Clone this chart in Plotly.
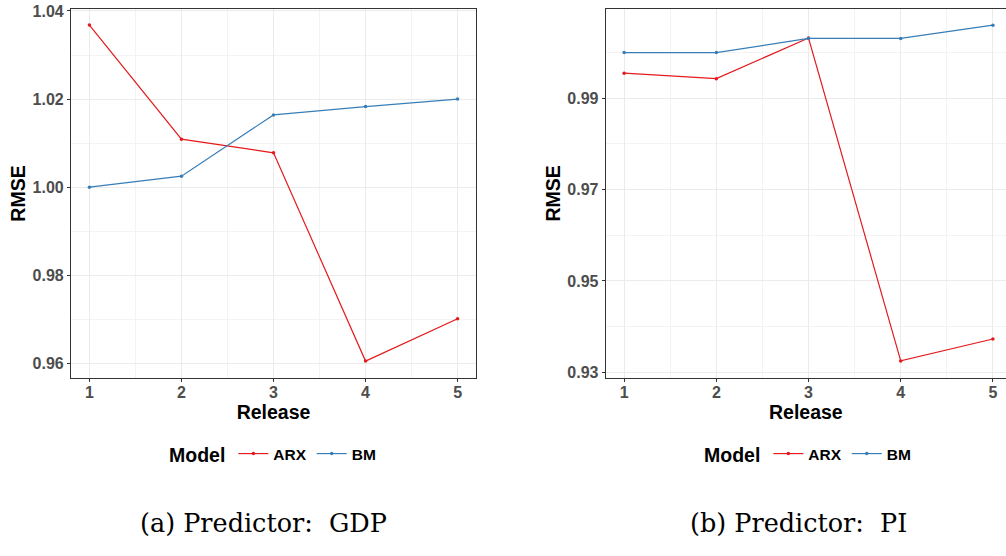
import plotly.graph_objects as go

releases = [1, 2, 3, 4, 5]

gdp_arx = [1.0368, 1.0109, 1.0078, 0.9605, 0.9701]
gdp_bm = [1.0000, 1.0025, 1.0164, 1.0183, 1.0200]

pi_arx = [0.9955, 0.9943, 1.0032, 0.9325, 0.9373]
pi_bm = [1.0000, 1.0000, 1.0031, 1.0031, 1.0060]

model_names = ["ARX", "BM"]
model_colors = ["#E41A1C", "#377EB8"]

captions = ["(a) Predictor:\u00a0 GDP", "(b) Predictor:\u00a0 PI"]

W, H = 1006, 556
FONT = "Liberation Sans, Arial, Helvetica, sans-serif"

fig = go.Figure()

panels = [(gdp_arx, gdp_bm, "x", "y", "legend"), (pi_arx, pi_bm, "x2", "y2", "legend2")]
for arx, bm, xa, ya, lg in panels:
    for name, vals, col in zip(model_names, [arx, bm], model_colors):
        fig.add_trace(go.Scatter(
            x=releases, y=vals, name=name, mode="lines+markers",
            line=dict(color=col, width=1.2),
            marker=dict(color=col, size=3.5),
            xaxis=xa, yaxis=ya, legend=lg,
        ))

def px_x(p):
    return p / W

def px_y(p):
    return 1 - p / H

axis_common = dict(
    automargin=False,
    showline=True, linecolor="#333333", linewidth=1.1,
    ticks="outside", ticklen=3, tickwidth=1, tickcolor="#333333",
    tickfont=dict(family=FONT, size=16, color="#4D4D4D", weight="bold"),
    showgrid=True, gridcolor="#EBEBEB", gridwidth=1.1,
    zeroline=False,
    title_font=dict(family=FONT, size=19.5, color="black", weight="bold"),
)

fig.update_layout(
    template="none",
    width=W, height=H,
    margin=dict(l=0, r=0, t=0, b=0, autoexpand=False),
    paper_bgcolor="white", plot_bgcolor="white",
    font=dict(family=FONT),
    xaxis=dict(axis_common, domain=[px_x(71), px_x(476)], range=[0.8, 5.2],
               tickvals=releases, mirror=True, anchor="y", ticklabelstandoff=-3,
               minor=dict(tickvals=[1.5, 2.5, 3.5, 4.5], showgrid=True, gridcolor="#F3F3F3", gridwidth=0.6, ticks=""),
               title=dict(text="Release", standoff=1)),
    yaxis=dict(axis_common, domain=[px_y(378), px_y(9)], range=[0.95666, 1.04045],
               tickvals=[0.96, 0.98, 1.00, 1.02, 1.04], ticktext=["0.96", "0.98", "1.00", "1.02", "1.04"],
               mirror=True, anchor="x",
               minor=dict(tickvals=[0.97, 0.99, 1.01, 1.03], showgrid=True, gridcolor="#F3F3F3", gridwidth=0.6, ticks=""),
               title=dict(text="RMSE", standoff=1)),
    xaxis2=dict(axis_common, domain=[px_x(605.7), 1.0], range=[0.8, 5.142],
                tickvals=releases, mirror=True, anchor="y2", ticklabelstandoff=-3,
                minor=dict(tickvals=[1.5, 2.5, 3.5, 4.5], showgrid=True, gridcolor="#F3F3F3", gridwidth=0.6, ticks=""),
                title=dict(text="Release", standoff=1)),
    yaxis2=dict(axis_common, domain=[px_y(377.7), px_y(9)], range=[0.92882, 1.00955],
                tickvals=[0.93, 0.95, 0.97, 0.99], ticktext=["0.93", "0.95", "0.97", "0.99"],
                mirror=False, anchor="x2",
                minor=dict(tickvals=[0.94, 0.96, 0.98, 1.00], showgrid=True, gridcolor="#F3F3F3", gridwidth=0.6, ticks=""),
                title=dict(text="RMSE", standoff=1)),
)

leg_common = dict(
    orientation="h", yanchor="middle", xanchor="left",
    bgcolor="rgba(0,0,0,0)",
    font=dict(family=FONT, size=15.5, color="black", weight="bold"),
    title=dict(text="Model", side="left", font=dict(family=FONT, size=19.5, color="black", weight="bold")),
    itemwidth=30, tracegroupgap=0,
)
fig.update_layout(
    legend=dict(leg_common, x=px_x(167), y=px_y(455)),
    legend2=dict(leg_common, x=px_x(702), y=px_y(455)),
)

cap_x = [263.5, 798.7]
for txt, cx in zip(captions, cap_x):
    fig.add_annotation(
        text=txt, xref="paper", yref="paper", x=px_x(cx), y=px_y(523),
        xanchor="center", yanchor="middle", showarrow=False,
        font=dict(family="DejaVu Serif, serif", size=25.5, color="black"),
    )

fig.write_html("out.html")
